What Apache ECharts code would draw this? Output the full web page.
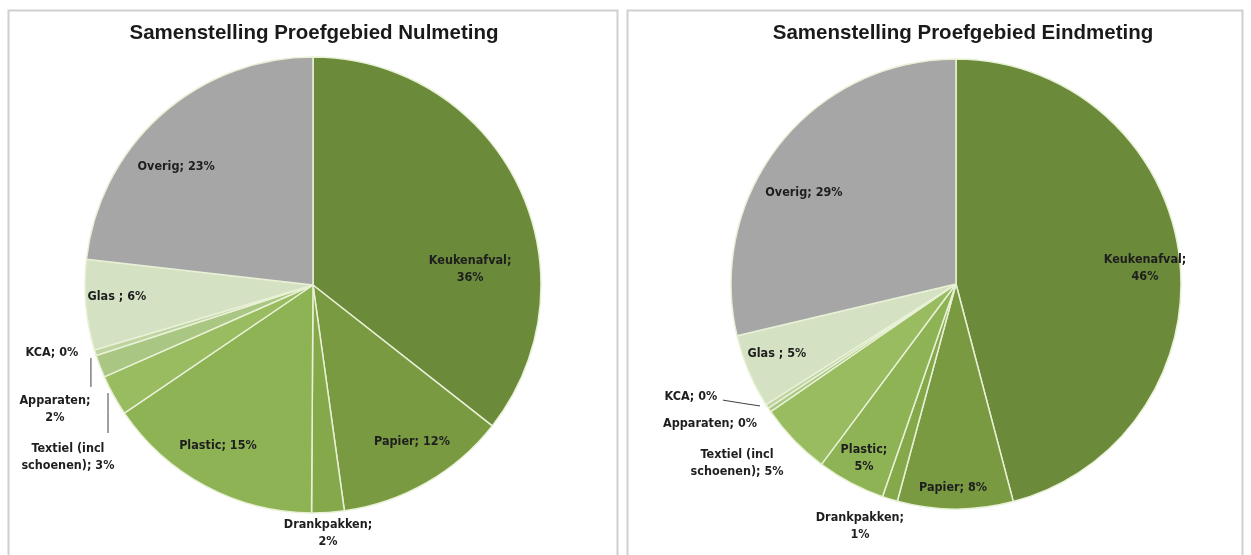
<!DOCTYPE html>
<html><head><meta charset="utf-8">
<script src="https://cdn.jsdelivr.net/npm/echarts@6/dist/echarts.min.js"></script>
<style>html,body{margin:0;padding:0;background:#fff}#c{width:1251px;height:555px}</style>
</head><body><div id="c"></div>
<script>
// ---- data ----
const categories = ['Keukenafval', 'Papier', 'Drankpakken', 'Plastic', 'Textiel (incl schoenen)', 'Apparaten', 'KCA', 'Glas ', 'Overig'];
const nulmeting = [35.6, 12.2, 2.3, 15.4, 2.9, 1.6, 0.4, 6.4, 23.2];
const eindmeting = [45.9, 8.3, 1.1, 4.9, 5.2, 0.3, 0.3, 5.3, 28.7];
const titles = ['Samenstelling Proefgebied Nulmeting', 'Samenstelling Proefgebied Eindmeting'];

// ---- styles ----
const colors = ['#6b8a3a', '#7a9a42', '#85a84b', '#8eb355', '#98bc5f', '#a9c682', '#bfd3a0', '#d4e1c2', '#a6a6a6'];
const FONT = "'Liberation Sans Narrow','DejaVu Sans Condensed',Roboto,sans-serif";
const panels = [
  { center: [313, 285], r: 228,
    breakAfterName: [true, false, true, false, false, true, false, false, false],
    outside: [false, false, true, false, true, true, true, false, false],
    pos: [[0.689, -0.068], [0.434, 0.688], [0.066, 1.09], [-0.417, 0.704], [-1.075, 0.757], [-1.132, 0.546], [-1.145, 0.298], [-0.86, 0.05], [-0.6, -0.52]],
    lines: { 5: [[-0.974, 0.32], [-0.974, 0.38], [-0.974, 0.447]], 4: [[-0.899, 0.474], [-0.899, 0.56], [-0.899, 0.649]] }
  },
  { center: [956, 284], r: 225,
    breakAfterName: [true, false, true, true, false, false, false, false, false],
    outside: [false, false, true, false, true, true, true, false, false],
    pos: [[0.84, -0.071], [-0.013, 0.907], [-0.427, 1.076], [-0.409, 0.773], [-0.973, 0.796], [-1.093, 0.622], [-1.178, 0.502], [-0.796, 0.311], [-0.676, -0.404]],
    lines: { 6: [[-0.871, 0.542], [-0.95, 0.53], [-1.036, 0.516]] }
  }
];

function labelText(name, value, brk) {
  const n = name.replace('(incl ', '(incl\n');
  return n + ';' + (brk ? '\n' : ' ') + Math.round(value) + '%';
}

function buildSeries(values, p) {
  return {
    type: 'pie',
    center: p.center,
    radius: p.r,
    startAngle: 90,
    clockwise: true,
    silent: true,
    animation: false,
    itemStyle: { borderColor: '#e8f1d6', borderWidth: 1.5 },
    data: categories.map((c, i) => ({
      name: c,
      value: values[i],
      itemStyle: { color: colors[i] },
      label: {
        show: true,
        position: p.outside[i] ? 'outside' : 'inside',
        formatter: () => labelText(c, values[i], p.breakAfterName[i]),
        fontFamily: FONT, fontWeight: 'bold', fontSize: 12.5, color: '#1e1e1e',
        lineHeight: 17, align: 'center', overflow: 'none', alignTo: 'none', edgeDistance: 0
      },
      labelLine: { show: !!p.lines[i], lineStyle: { color: '#404040', width: 1 } }
    })),
    labelLayout: (params) => {
      const i = params.dataIndex;
      const q = p.pos[i];
      const res = {
        x: p.center[0] + q[0] * p.r,
        y: p.center[1] + q[1] * p.r,
        align: 'center',
        verticalAlign: 'middle'
      };
      if (p.lines[i]) {
        res.labelLinePoints = p.lines[i].map(pt => [p.center[0] + pt[0] * p.r, p.center[1] + pt[1] * p.r]);
      }
      return res;
    }
  };
}

const chart = echarts.init(document.getElementById('c'), null, { renderer: 'canvas' });
const titleStyle = { fontFamily: "'Liberation Sans',Arial,sans-serif", fontWeight: 'bold', fontSize: 20.5, color: '#1a1a1a' };
chart.setOption({
  backgroundColor: '#ffffff',
  animation: false,
  title: [
    { text: titles[0], left: 309, top: 18, textAlign: 'center', textStyle: titleStyle },
    { text: titles[1], left: 958, top: 18, textAlign: 'center', textStyle: titleStyle }
  ],
  graphic: [
    { type: 'rect', shape: { x: 8.5, y: 10.5, width: 609, height: 600 }, style: { fill: 'none', stroke: '#d0d0d0', lineWidth: 2 }, silent: true, z: -1 },
    { type: 'rect', shape: { x: 627.5, y: 10.5, width: 615, height: 600 }, style: { fill: 'none', stroke: '#d0d0d0', lineWidth: 2 }, silent: true, z: -1 }
  ],
  series: [buildSeries(nulmeting, panels[0]), buildSeries(eindmeting, panels[1])]
});
</script></body></html>
